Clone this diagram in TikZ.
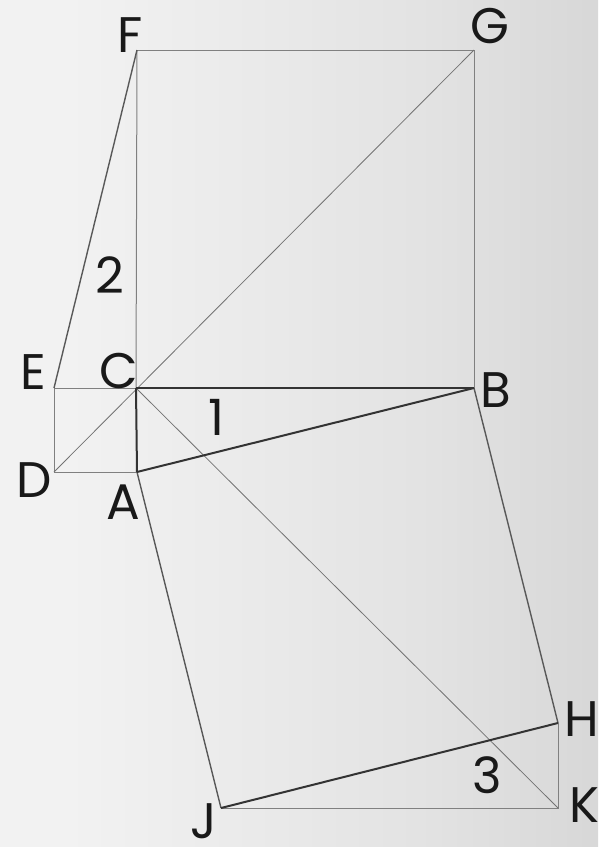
\documentclass[tikz,border=0pt]{standalone}
\usepackage{fontspec}
\setmainfont{Poppins}
\pgfdeclarehorizontalshading{bgshade}{100bp}{color(0bp)=(black!6); color(30bp)=(black!5); color(60bp)=(black!11); color(100bp)=(black!23)}
\begin{document}
\begin{tikzpicture}[x=1pt,y=-1pt,
  thinline/.style={draw=black!50,line width=1pt},
  midline/.style={draw=black!65,line width=1.4pt},
  thickline/.style={draw=black!80,line width=2pt},
  diag/.style={draw=black!55,line width=0.8pt},
  lbl/.style={inner sep=0pt,font=\fontsize{50}{50}\selectfont,text=black!90}]
\useasboundingbox (0,0) rectangle (598,847);
\shade[shading=bgshade] (0,0) rectangle (598,847);
% points
\coordinate (C) at (136,388);
\coordinate (B) at (474,388);
\coordinate (A) at (137,472);
\coordinate (D) at (54,472);
\coordinate (E) at (54,388);
\coordinate (F) at (137,50);
\coordinate (G) at (474,50);
\coordinate (H) at (558,723);
\coordinate (K) at (558,808);
\coordinate (J) at (221,808);
% thin lines
\draw[thinline] (F) -- (G) -- (B);
\draw[thinline] (F) -- (C);
\draw[thinline] (E) -- (C);
\draw[thinline] (E) -- (D) -- (A);
\draw[thinline] (H) -- (K) -- (J);
\draw[diag] (D) -- (G);
\draw[diag] (C) -- (K);
% medium lines
\draw[midline] (F) -- (E);
\draw[midline] (A) -- (J);
\draw[midline] (B) -- (H);
% thick lines
\draw[thickline] (C) -- (B);
\draw[thickline] (C) -- (A);
\draw[thickline] (A) -- (B);
\draw[thickline] (J) -- (H);
% labels
\node[lbl] (lF) at (130,35) {F};
\node[lbl] (lG) at (490,26) {G};
\node[lbl] (lE) at (33,372) {E};
\node[lbl] (lC) at (119,371) {C};
\node[lbl] (lB) at (496,390) {B};
\node[lbl] (lD) at (34,480) {D};
\node[lbl] (lA) at (123,502) {A};
\node[lbl] (lH) at (582,719) {H};
\node[lbl] (lK) at (584,805) {K};
\node[lbl,text depth=0pt,anchor=base] (lJ) at (204,838) {J};
\node[lbl] (l1) at (216,417) {1};
\node[lbl] (l2) at (110,275) {2};
\node[lbl] (l3) at (487,775) {3};
\end{tikzpicture}
\end{document}
